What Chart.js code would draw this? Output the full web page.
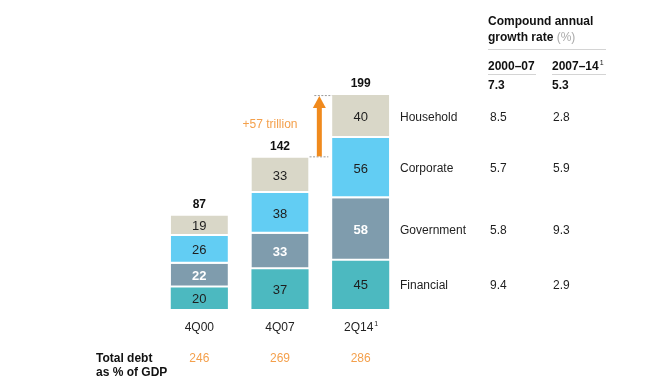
<!DOCTYPE html>
<html><head><meta charset="utf-8">
<script src="https://cdn.jsdelivr.net/npm/chart.js@4"></script>
<style>html,body{margin:0;padding:0;background:#fff}#wrap{width:647px;height:382px;position:relative}</style>
</head><body><div id="wrap"><canvas id="c" width="647" height="382"></canvas></div>
<script>
const categories = ['4Q00', '4Q07', '2Q14'];
const financial = [20, 37, 45];
const government = [22, 33, 58];
const corporate = [26, 38, 56];
const household = [19, 33, 40];
const totals = [87, 142, 199];
const debtPctGDP = [246, 269, 286];
const sectorNames = ['Financial', 'Government', 'Corporate', 'Household'];
const cagr0007 = [9.4, 5.8, 5.7, 8.5];
const cagr0714 = [2.9, 9.3, 5.9, 2.8];
const cagrTotal = [7.3, 5.3];
const increaseLabel = '+57 trillion';

const FONT = '"Liberation Sans", Arial, sans-serif';
const colors = ['#4cb9c0', '#7f9cad', '#62cdf3', '#d9d7c8'];
const series = [financial, government, corporate, household];

const overlay = {
  id: 'overlay',
  afterDraw(chart) {
    const ctx = chart.ctx, x = chart.scales.x, y = chart.scales.y;
    ctx.save();
    ctx.textBaseline = 'middle';
    // segment labels
    chart.data.datasets.forEach((ds, di) => {
      const meta = chart.getDatasetMeta(di);
      meta.data.forEach((bar, i) => {
        const cy = (bar.y + bar.base) / 2 + (di === 3 ? 1 : 1);
        ctx.textAlign = 'center';
        if (di === 1) { ctx.fillStyle = '#ffffff'; ctx.font = 'bold 13px ' + FONT; }
        else { ctx.fillStyle = '#1e1e1e'; ctx.font = '13px ' + FONT; }
        ctx.fillText(String(ds.data[i]), bar.x, cy);
      });
    });
    // totals
    ctx.fillStyle = '#111';
    ctx.font = 'bold 12px ' + FONT;
    ctx.textAlign = 'center';
    totals.forEach((t, i) => {
      const cx = x.getPixelForValue(i);
      const top = y.getPixelForValue(series.reduce((s, a) => s + a[i], 0));
      ctx.fillText(String(t), cx, top - 11);
    });
    // category labels
    ctx.font = '12px ' + FONT;
    ctx.fillStyle = '#222';
    categories.forEach((c, i) => {
      const cx = x.getPixelForValue(i);
      if (i === 2) {
        const w = ctx.measureText(c).width;
        ctx.textAlign = 'center';
        ctx.fillText(c, cx - 2, 328);
        ctx.font = '7px ' + FONT;
        ctx.textAlign = 'left';
        ctx.fillText('1', cx - 2 + w / 2 + 1, 324);
        ctx.font = '12px ' + FONT;
      } else {
        ctx.textAlign = 'center';
        ctx.fillText(c, cx, 328);
      }
    });
    // total debt as % of GDP
    ctx.textAlign = 'left';
    ctx.font = 'bold 12px ' + FONT;
    ctx.fillStyle = '#111';
    ctx.fillText('Total debt', 96, 359);
    ctx.fillText('as % of GDP', 96, 373);
    ctx.font = '12px ' + FONT;
    ctx.fillStyle = '#f4a04c';
    ctx.textAlign = 'center';
    debtPctGDP.forEach((v, i) => ctx.fillText(String(v), x.getPixelForValue(i), 359));

    // arrow
    const m1 = chart.getDatasetMeta(3).data[1], m2 = chart.getDatasetMeta(3).data[2];
    const yLow = y.getPixelForValue(totals[1]);
    const yHigh = y.getPixelForValue(totals[2]);
    const ax = (m1.x + m1.width / 2 + m2.x - m2.width / 2) / 2 - 1;
    ctx.strokeStyle = '#999';
    ctx.lineWidth = 1;
    ctx.setLineDash([2, 1.5]);
    ctx.beginPath();
    ctx.moveTo(m1.x + m1.width / 2 + 1, yLow + 0.5); ctx.lineTo(ax + 9, yLow + 0.5);
    ctx.moveTo(ax - 5, yHigh + 0.5); ctx.lineTo(m2.x - m2.width / 2, yHigh + 0.5);
    ctx.stroke();
    ctx.setLineDash([]);
    ctx.fillStyle = '#f08a1d';
    ctx.fillRect(ax - 2.5, yHigh + 11, 5, yLow - yHigh - 11);
    ctx.beginPath();
    ctx.moveTo(ax, yHigh + 1);
    ctx.lineTo(ax + 6.5, yHigh + 13);
    ctx.lineTo(ax - 6.5, yHigh + 13);
    ctx.closePath();
    ctx.fill();
    ctx.fillStyle = '#f4a04c';
    ctx.font = '12px ' + FONT;
    ctx.textAlign = 'center';
    ctx.fillText(increaseLabel, 270, 125);

    // right table
    const c1 = 488, c2 = 552;
    ctx.textAlign = 'left';
    ctx.fillStyle = '#111';
    ctx.font = 'bold 12px ' + FONT;
    ctx.fillText('Compound annual', c1, 22);
    ctx.fillText('growth rate', c1, 38);
    const gw = ctx.measureText('growth rate ').width;
    ctx.font = '12px ' + FONT;
    ctx.fillStyle = '#aaa';
    ctx.fillText('(%)', c1 + gw, 38);
    ctx.fillStyle = '#111';
    ctx.font = 'bold 12px ' + FONT;
    ctx.fillText('2000–07', c1, 67);
    ctx.fillText('2007–14', c2, 67);
    const w14 = ctx.measureText('2007–14').width;
    ctx.font = '7px ' + FONT;
    ctx.fillText('1', c2 + w14 + 1, 63);
    ctx.font = 'bold 12px ' + FONT;
    ctx.fillText(cagrTotal[0].toFixed(1), c1, 86);
    ctx.fillText(cagrTotal[1].toFixed(1), c2, 86);
    ctx.strokeStyle = '#d4d4d4';
    ctx.lineWidth = 1;
    ctx.beginPath();
    ctx.moveTo(c1, 49.5); ctx.lineTo(606, 49.5);
    ctx.moveTo(c1, 74.5); ctx.lineTo(536, 74.5);
    ctx.moveTo(c2, 74.5); ctx.lineTo(606, 74.5);
    ctx.stroke();
    // sector rows aligned with last bar segments
    ctx.font = '12px ' + FONT;
    ctx.fillStyle = '#1e1e1e';
    sectorNames.forEach((n, si) => {
      const bar = chart.getDatasetMeta(si).data[2];
      const cy = (bar.y + bar.base) / 2 + 1;
      ctx.fillText(n, 400, cy);
      ctx.fillText(cagr0007[si].toFixed(1), 490, cy);
      ctx.fillText(cagr0714[si].toFixed(1), 553, cy);
    });
    ctx.restore();
  }
};

new Chart(document.getElementById('c'), {
  type: 'bar',
  data: {
    labels: categories,
    datasets: series.map((d, i) => ({
      label: sectorNames[i],
      data: d,
      backgroundColor: colors[i],
      borderColor: '#ffffff',
      borderWidth: i === 0 ? 0 : { top: 0, bottom: 2, left: 0, right: 0 },
      borderSkipped: false,
      categoryPercentage: 1,
      barPercentage: 0.708
    }))
  },
  options: {
    responsive: false,
    animation: false,
    events: [],
    layout: { padding: { left: 159, right: 246, top: 94, bottom: 73 } },
    plugins: { legend: { display: false }, tooltip: { enabled: false } },
    scales: {
      x: { stacked: true, display: false },
      y: { stacked: true, display: false, min: 0, max: 200 }
    }
  },
  plugins: [overlay]
});
</script></body></html>
